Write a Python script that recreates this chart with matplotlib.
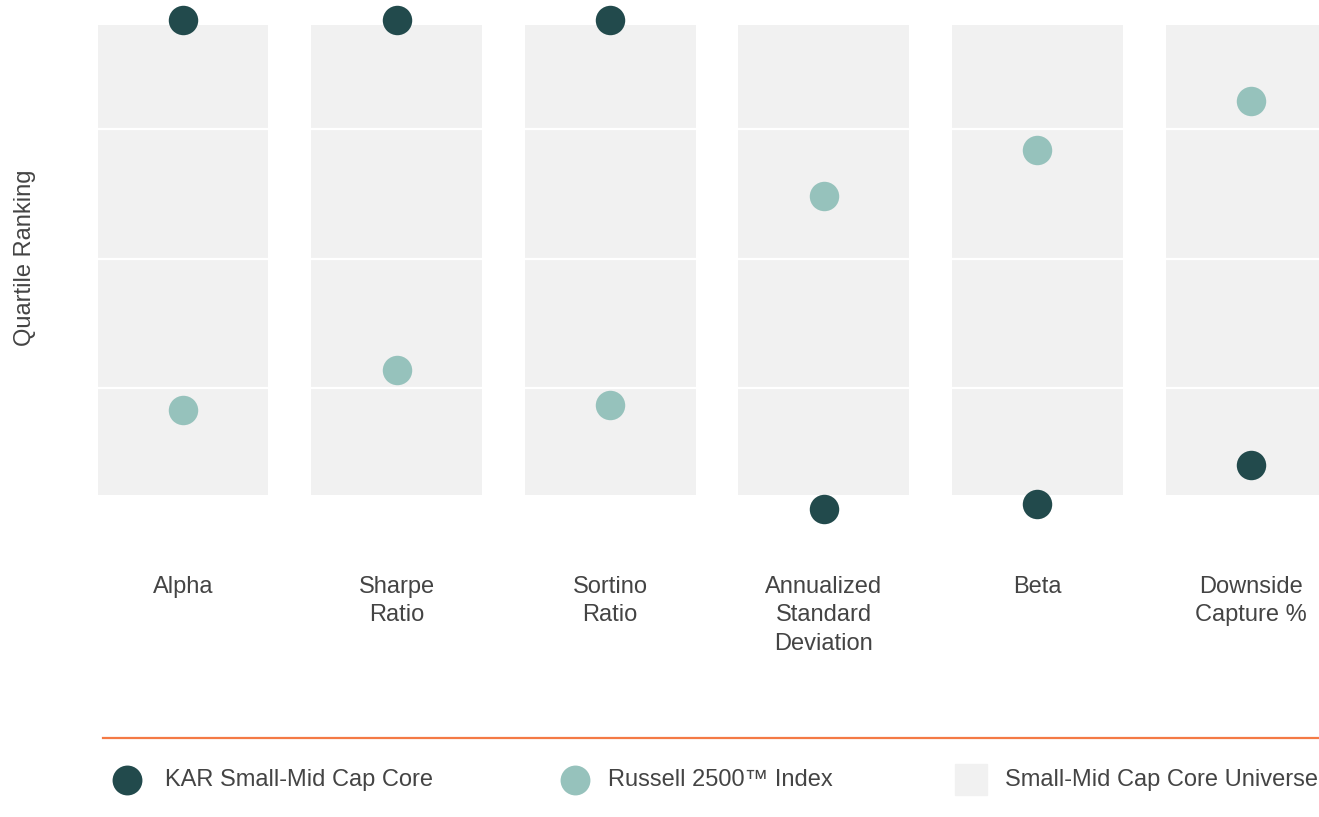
import matplotlib
matplotlib.use("Agg")
import matplotlib.pyplot as plt
from matplotlib.lines import Line2D
from matplotlib.patches import Rectangle

plt.rcParams["font.family"] = ["Liberation Sans", "DejaVu Sans"]

# ── data (percentile rank within universe, 0 = best) ─────────────────────────
categories = ["Alpha", "Sharpe\nRatio", "Sortino\nRatio",
              "Annualized\nStandard\nDeviation", "Beta", "Downside\nCapture %"]
kar_rank = [4, 4, 4, 98.4, 97.3, 89.9]
r2500_rank = [79.2, 71.5, 78.3, 37.9, 29.1, 19.6]
universe_low, universe_high = 5, 95.6
quartiles = [25, 50, 75]

C_KAR = "#224A4C"
C_IDX = "#96C2BC"
C_UNI = "#F1F1F1"
C_TXT = "#444444"
C_RULE = "#F47A45"

W, H = 1319, 817
FS = 17
fig = plt.figure(figsize=(W / 100, H / 100), dpi=100)


def fx(px):
    return px / W


def fy(py):
    return 1 - py / H


# axes in pixel geometry: x centres at 183 + i*213.6, y mapped 0..540 px
ax_left, ax_right = 76, 1319
ax_top, ax_bot = 0, 540
ax = fig.add_axes([fx(ax_left), fy(ax_bot), fx(ax_right - ax_left), (ax_bot - ax_top) / H])
step = 213.6
x0 = -(183 - ax_left) / step
ax.set_xlim(x0, x0 + (ax_right - ax_left) / step)
scale = 5.18
ax.set_ylim(50 + (ax_bot - 258.5) / scale, 50 + (ax_top - 258.5) / scale)
ax.axis("off")

xs = list(range(len(categories)))
bw = 0.8
ax.bar(xs, [universe_high - universe_low] * len(xs), bottom=universe_low,
       width=bw, color=C_UNI, zorder=1)
for q in quartiles:
    ax.hlines([q] * len(xs), [x - bw / 2 for x in xs], [x + bw / 2 for x in xs],
              color="white", lw=1.6, zorder=2)

ax.scatter(xs, r2500_rank, s=450, color=C_IDX, zorder=3, clip_on=False, linewidths=0)
ax.scatter(xs, kar_rank, s=450, color=C_KAR, zorder=4, clip_on=False, linewidths=0)

# category labels
for x, lbl in zip(xs, categories):
    px = 183 + x * step
    fig.text(fx(px), fy(576), lbl, ha="center", va="top", fontsize=FS,
             color=C_TXT, linespacing=1.38)

fig.text(fx(25), fy(258), "Quartile Ranking", rotation=90, ha="center",
         va="center", fontsize=FS, color=C_TXT)

# ── legend ───────────────────────────────────────────────────────────────────
fig.add_artist(Line2D([fx(103), fx(1319)], [fy(738), fy(738)], color=C_RULE, lw=1.6))
fig.add_artist(Line2D([fx(127)], [fy(780)], marker="o", markersize=21.5,
                      color=C_KAR, markeredgewidth=0, ls=""))
fig.add_artist(Line2D([fx(575)], [fy(780)], marker="o", markersize=21.5,
                      color=C_IDX, markeredgewidth=0, ls=""))
fig.add_artist(Rectangle((fx(955), fy(795)), fx(32), 31 / H, color=C_UNI,
                         transform=fig.transFigure))
for px, txt in [(165, "KAR Small-Mid Cap Core"), (608, "Russell 2500™ Index"),
                (1005, "Small-Mid Cap Core Universe")]:
    fig.text(fx(px), fy(780), txt, ha="left", va="center", fontsize=FS, color=C_TXT)

fig.savefig("out.png", dpi=100, facecolor="white")
